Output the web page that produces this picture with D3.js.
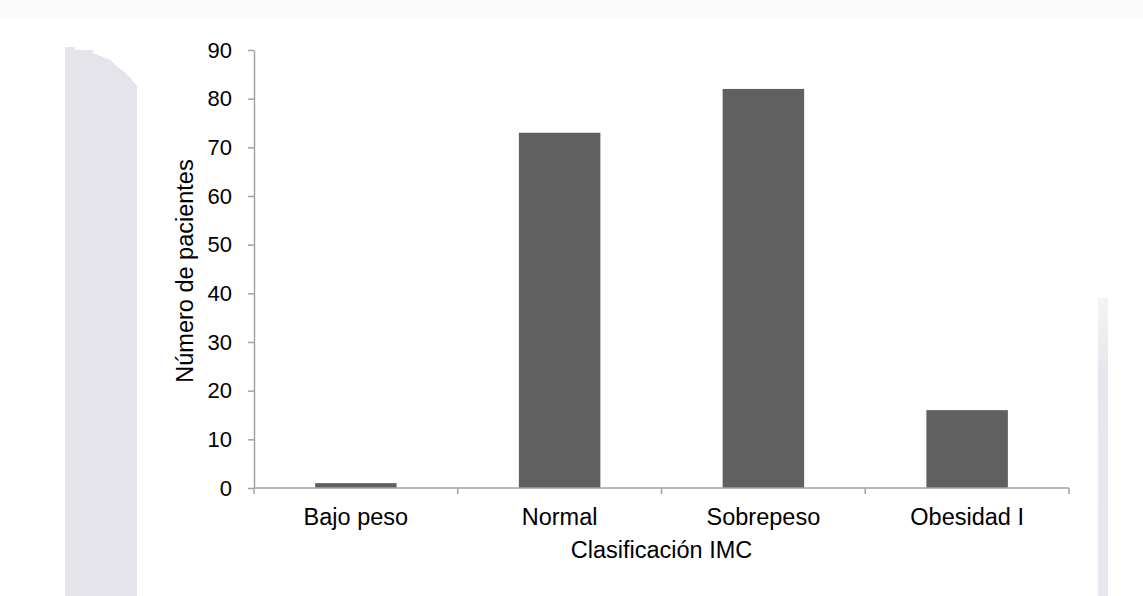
<!DOCTYPE html>
<html>
<head>
<meta charset="utf-8">
<script src="https://cdn.jsdelivr.net/npm/d3@7"></script>
<style>
  html, body { margin: 0; padding: 0; background: #ffffff; }
  svg { display: block; font-family: "Liberation Sans", Arial, sans-serif; }
</style>
</head>
<body>
<svg id="chart" width="1143" height="596"></svg>
<script>
// IMC classification counts
const categories = ["Bajo peso", "Normal", "Sobrepeso", "Obesidad I"];
const patients = [1, 73, 82, 16];
const yTicks = [0, 10, 20, 30, 40, 50, 60, 70, 80, 90];
const xTitle = "Clasificación IMC";
const yTitle = "Número de pacientes";

const svg = d3.select("#chart");
const W = 1143, H = 596;
const plot = { left: 254, right: 1069, top: 50, bottom: 488 };
const axisColor = "#a3a3a3";
const barColor = "#606060";

// page backdrop: faint band on top, grey strips on the sides
svg.append("rect").attr("x", 0).attr("y", 0).attr("width", W).attr("height", 18).attr("fill", "#fbfbfb");
svg.append("path")
  .attr("d", "M65,47 L75,47 L75,50 L93,50 L93,53 L103,57 L110,60 L115,65 L122,70 L127,75 L132,80 L137,86 L137,596 L65,596 Z")
  .attr("fill", "#e4e4ea")
  .attr("shape-rendering", "crispEdges");
const stripGrad = svg.append("defs").append("linearGradient")
  .attr("id", "stripGrad").attr("x1", 0).attr("y1", 0).attr("x2", 0).attr("y2", 1);
stripGrad.append("stop").attr("offset", "0").attr("stop-color", "#f4f4f7");
stripGrad.append("stop").attr("offset", "0.25").attr("stop-color", "#e6e6ec");
stripGrad.append("stop").attr("offset", "1").attr("stop-color", "#e8e8ee");
svg.append("rect").attr("x", 1098).attr("y", 298).attr("width", 10).attr("height", H - 298)
  .attr("fill", "url(#stripGrad)");

const x = d3.scaleBand()
  .domain(categories)
  .range([plot.left, plot.right])
  .paddingInner(0.6)
  .paddingOuter(0.3);

const y = d3.scaleLinear()
  .domain([0, 90])
  .range([plot.bottom, plot.top]);

// bars
svg.append("g")
  .selectAll("rect")
  .data(categories.map((c, i) => ({ c, v: patients[i] })))
  .join("rect")
  .attr("x", d => x(d.c))
  .attr("y", d => y(d.v))
  .attr("width", x.bandwidth())
  .attr("height", d => y(0) - y(d.v))
  .attr("fill", barColor);

// y axis
const yAxis = svg.append("g")
  .attr("transform", `translate(${plot.left},0)`)
  .call(d3.axisLeft(y).tickValues(yTicks).tickSize(6).tickSizeOuter(0).tickPadding(16));
yAxis.select(".domain").attr("stroke", axisColor).attr("stroke-width", 1.5);
yAxis.selectAll(".tick line").attr("stroke", axisColor).attr("stroke-width", 1.5);
yAxis.selectAll(".tick text")
  .attr("fill", "#000")
  .style("font-size", "22px")
  .style("font-family", "'Liberation Sans', Arial, sans-serif");

// x axis baseline with ticks on the category boundaries
const xg = svg.append("g");
xg.append("line")
  .attr("x1", plot.left).attr("x2", plot.right)
  .attr("y1", y(0)).attr("y2", y(0))
  .attr("stroke", axisColor).attr("stroke-width", 1.5);
const step = x.step();
const boundaries = d3.range(categories.length + 1).map(i => plot.left + i * step);
xg.selectAll("line.tick")
  .data(boundaries)
  .join("line")
  .attr("class", "tick")
  .attr("x1", d => d).attr("x2", d => d)
  .attr("y1", y(0)).attr("y2", y(0) + 6)
  .attr("stroke", axisColor).attr("stroke-width", 1.5);
xg.selectAll("text")
  .data(categories)
  .join("text")
  .attr("x", d => x(d) + x.bandwidth() / 2)
  .attr("y", 525)
  .attr("text-anchor", "middle")
  .attr("fill", "#000")
  .style("font-size", "23.5px")
  .text(d => d);

// axis titles
svg.append("text")
  .attr("x", (plot.left + plot.right) / 2)
  .attr("y", 558)
  .attr("text-anchor", "middle")
  .attr("fill", "#000")
  .style("font-size", "23.5px")
  .text(xTitle);

svg.append("text")
  .attr("transform", `translate(193,${(plot.top + plot.bottom) / 2 + 2}) rotate(-90)`)
  .attr("text-anchor", "middle")
  .attr("fill", "#000")
  .style("font-size", "23.5px")
  .text(yTitle);
</script>
</body>
</html>
